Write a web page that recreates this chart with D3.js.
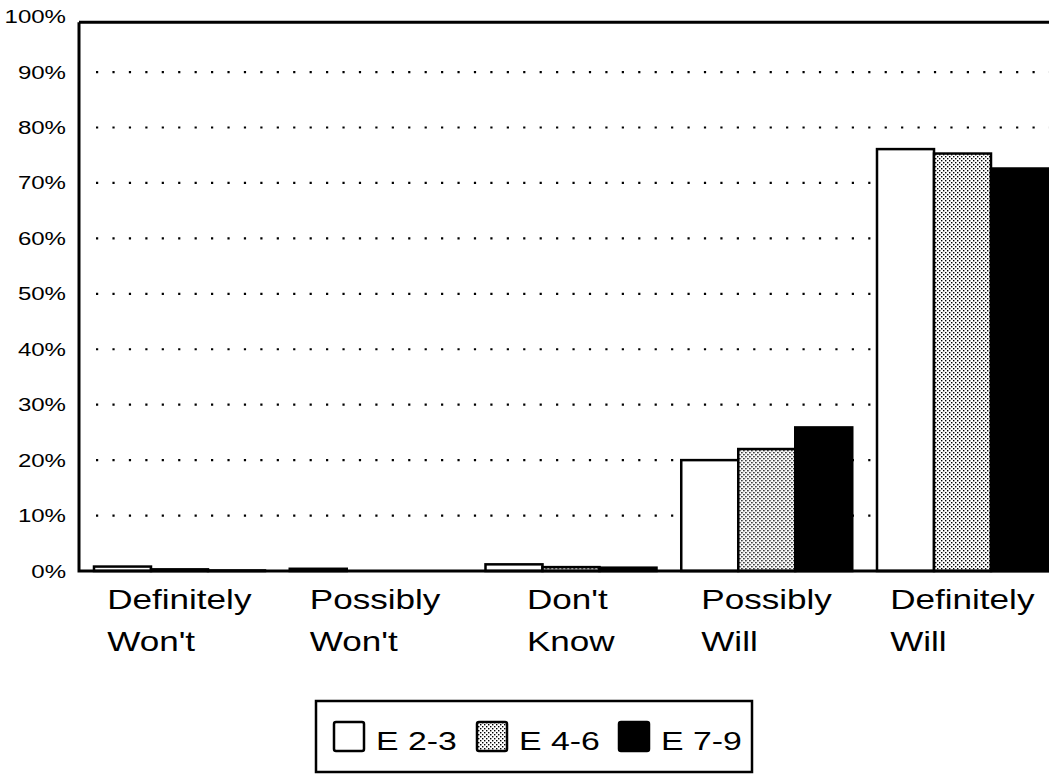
<!DOCTYPE html>
<html>
<head>
<meta charset="utf-8">
<script src="https://cdn.jsdelivr.net/npm/d3@7"></script>
<style>
  html, body { margin: 0; padding: 0; background: #fff; }
  svg { display: block; }
  text { font-family: "Liberation Sans", Arial, Helvetica, sans-serif; fill: #000; }
</style>
</head>
<body>
<svg id="chart" width="1049" height="782"></svg>
<script>
// ---- data ----
const categories = ["Definitely Won't", "Possibly Won't", "Don't Know", "Possibly Will", "Definitely Will"];
const categoryLines = [["Definitely", "Won't"], ["Possibly", "Won't"], ["Don't", "Know"], ["Possibly", "Will"], ["Definitely", "Will"]];
const seriesNames = ["E 2-3", "E 4-6", "E 7-9"];
const e23 = [0.8, 0.4, 1.2, 20.0, 76.1];
const e46 = [0.3, 0.0, 0.7, 22.0, 75.3];
const e79 = [0.1, 0.0, 0.6, 25.9, 72.6];
const yTicks = [0, 10, 20, 30, 40, 50, 60, 70, 80, 90, 100];
const yTickLabels = ["0%", "10%", "20%", "30%", "40%", "50%", "60%", "70%", "80%", "90%", "100%"];

const seriesValues = [e23, e46, e79];
const table = categories.map((c, i) => ({
  category: c,
  values: seriesNames.map((s, j) => ({ series: s, value: seriesValues[j][i] }))
}));

// ---- layout ----
const svg = d3.select("#chart");
const left = 79, right = 1063, bottom = 571, top0 = 16.6;
const SX = 1.3; // horizontal stretch of the lettering

const y = d3.scaleLinear().domain([0, 100]).range([bottom, top0]);
const x0 = d3.scaleBand().domain(categories).range([left, right])
  .paddingInner(0.1264).paddingOuter(0.0766);
const x1 = d3.scaleBand().domain(seriesNames).range([0, x0.bandwidth()]);

// pattern for stippled series
const defs = svg.append("defs");
const pat = defs.append("pattern").attr("id", "stipple")
  .attr("patternUnits", "userSpaceOnUse").attr("width", 4).attr("height", 4);
pat.append("rect").attr("width", 4).attr("height", 4).attr("fill", "#fff");
pat.append("rect").attr("x", 0).attr("y", 0).attr("width", 1.4).attr("height", 1.4).attr("fill", "#000");
pat.append("rect").attr("x", 2).attr("y", 2).attr("width", 1.4).attr("height", 1.4).attr("fill", "#000");

const fills = { "E 2-3": "#fff", "E 4-6": "url(#stipple)", "E 7-9": "#000" };

// gridlines (dotted)
svg.append("g").selectAll("line")
  .data(yTicks.filter(t => t > 0 && t < 100))
  .join("line")
  .attr("x1", left + 17).attr("x2", 1049)
  .attr("y1", d => y(d)).attr("y2", d => y(d))
  .attr("stroke", "#000").attr("stroke-width", 2.2)
  .attr("stroke-dasharray", "2.2,14.23");

// bars
const groups = svg.append("g").selectAll("g")
  .data(table).join("g")
  .attr("transform", d => `translate(${x0(d.category)},0)`);

groups.selectAll("rect")
  .data(d => d.values).join("rect")
  .attr("x", d => x1(d.series))
  .attr("width", x1.bandwidth())
  .attr("y", d => y(d.value))
  .attr("height", d => y(0) - y(d.value))
  .attr("fill", d => fills[d.series])
  .attr("stroke", "#000")
  .attr("stroke-width", 2.5);

// frame
svg.append("path")
  .attr("d", `M${left},${y(99)} L${left},${bottom} L1060,${bottom} M${left},${y(99)} L1060,${y(99)}`)
  .attr("fill", "none").attr("stroke", "#000").attr("stroke-width", 3);

// y tick labels
svg.append("g").selectAll("text")
  .data(yTicks).join("text")
  .attr("transform", (d) => `translate(66,${y(d) + 6.5}) scale(${SX},1)`)
  .attr("text-anchor", "end")
  .attr("font-size", 18.5)
  .text((d, i) => yTickLabels[i]);

// category labels: two lines, left aligned, block centred under group
categories.forEach((c, i) => {
  const cx = x0(c) + x0.bandwidth() / 2;
  const g = svg.append("g").attr("transform", `translate(${cx},609) scale(${SX},1)`);
  const t = g.append("text").attr("font-size", 27);
  categoryLines[i].forEach((line, k) => {
    t.append("tspan").attr("x", 0).attr("dy", k === 0 ? 0 : 42).text(line);
  });
  const w = t.node().getBBox().width;
  t.selectAll("tspan").attr("x", -w / 2);
});

// legend
const legend = svg.append("g");
legend.append("rect")
  .attr("x", 316).attr("y", 701).attr("width", 436).attr("height", 71)
  .attr("fill", "#fff").attr("stroke", "#000").attr("stroke-width", 2.5);
const legX = [334, 477, 619];
seriesNames.forEach((s, i) => {
  legend.append("rect")
    .attr("x", legX[i]).attr("y", 722).attr("width", 30).attr("height", 29)
    .attr("fill", fills[s]).attr("stroke", "#000").attr("stroke-width", 2.5)
    .attr("rx", 2);
  legend.append("text")
    .attr("transform", `translate(${legX[i] + 42},750) scale(${SX},1)`)
    .attr("font-size", 26)
    .text(s);
});
</script>
</body>
</html>
